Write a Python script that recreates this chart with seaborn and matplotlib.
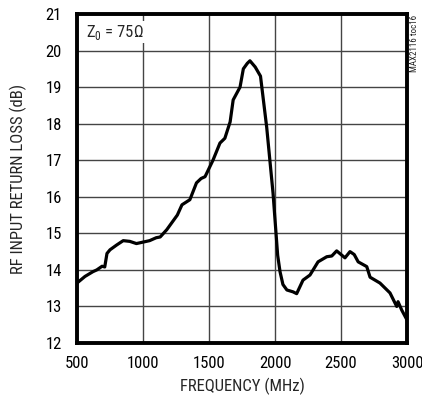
import numpy as np
import pandas as pd
import matplotlib
matplotlib.use('Agg')
import matplotlib.pyplot as plt
import seaborn as sns

# ── data ──────────────────────────────────────────────────────
freq_mhz = [500, 560, 620, 650, 690, 710, 727, 750, 800, 850, 900, 950,
            1000, 1050, 1100, 1130, 1180, 1220, 1260, 1295, 1355, 1405,
            1440, 1470, 1530, 1583, 1620, 1660, 1683, 1735, 1760, 1790,
            1810, 1850, 1890, 1937, 1985, 2020, 2038, 2060, 2090, 2136,
            2164, 2212, 2265, 2326, 2392, 2430, 2467, 2500, 2530, 2568,
            2600, 2630, 2695, 2720, 2795, 2871, 2922, 2932, 2960, 3000]
return_loss_db = [13.64, 13.82, 13.95, 14.0, 14.1, 14.08, 14.45, 14.55,
                  14.68, 14.8, 14.78, 14.72, 14.76, 14.8, 14.88, 14.9,
                  15.1, 15.3, 15.5, 15.78, 15.92, 16.38, 16.5, 16.55,
                  17.0, 17.47, 17.6, 18.05, 18.65, 19.0, 19.5, 19.65,
                  19.72, 19.55, 19.3, 17.9, 16.1, 14.4, 13.95, 13.6,
                  13.45, 13.4, 13.35, 13.72, 13.86, 14.22, 14.36, 14.38,
                  14.52, 14.42, 14.33, 14.5, 14.42, 14.22, 14.09, 13.8,
                  13.64, 13.37, 13.0, 13.13, 12.9, 12.63]
x_ticks = [500, 1000, 1500, 2000, 2500, 3000]
y_ticks = [12, 13, 14, 15, 16, 17, 18, 19, 20, 21]

df = pd.DataFrame({'freq': freq_mhz, 'rl': return_loss_db})

sns.set_style('white')
FONTS = ['Roboto Condensed', 'Archivo Narrow', 'Liberation Sans', 'DejaVu Sans']
plt.rcParams['font.family'] = FONTS
plt.rcParams['mathtext.fontset'] = 'custom'
plt.rcParams['mathtext.rm'] = 'Roboto Condensed'

fig = plt.figure(figsize=(4.22, 4.0), dpi=100)
ax = fig.add_axes([0.1825, 0.1425, 0.782, 0.8225])

sns.lineplot(data=df, x='freq', y='rl', ax=ax, color='black',
             linewidth=2.3, zorder=3)

ax.set_xlim(500, 3000)
ax.set_ylim(12, 21)
ax.set_xticks(x_ticks)
ax.set_yticks(y_ticks)
ax.grid(True, color='#444444', linewidth=1.0)
ax.tick_params(axis='both', length=0, labelsize=12, colors='black')
ax.tick_params(axis='y', pad=11)
ax.tick_params(axis='x', pad=9)
for s in ax.spines.values():
    s.set_color('black')
    s.set_linewidth(2.8)

ax.set_xlabel('FREQUENCY (MHz)', fontsize=12, labelpad=5)
ax.set_ylabel('RF INPUT RETURN LOSS (dB)', fontsize=12, labelpad=13)

ax.text(0.027, 0.945, r'Z$_0$ = 75Ω', transform=ax.transAxes,
        fontsize=12, va='center', ha='left',
        bbox=dict(facecolor='white', edgecolor='none', pad=1), zorder=4)
fig.text(0.983, 0.963, 'MAX2116 toc16', rotation=90, fontsize=6.5,
         va='top', ha='center', color='#222222')

fig.savefig('out.png', dpi=100)
